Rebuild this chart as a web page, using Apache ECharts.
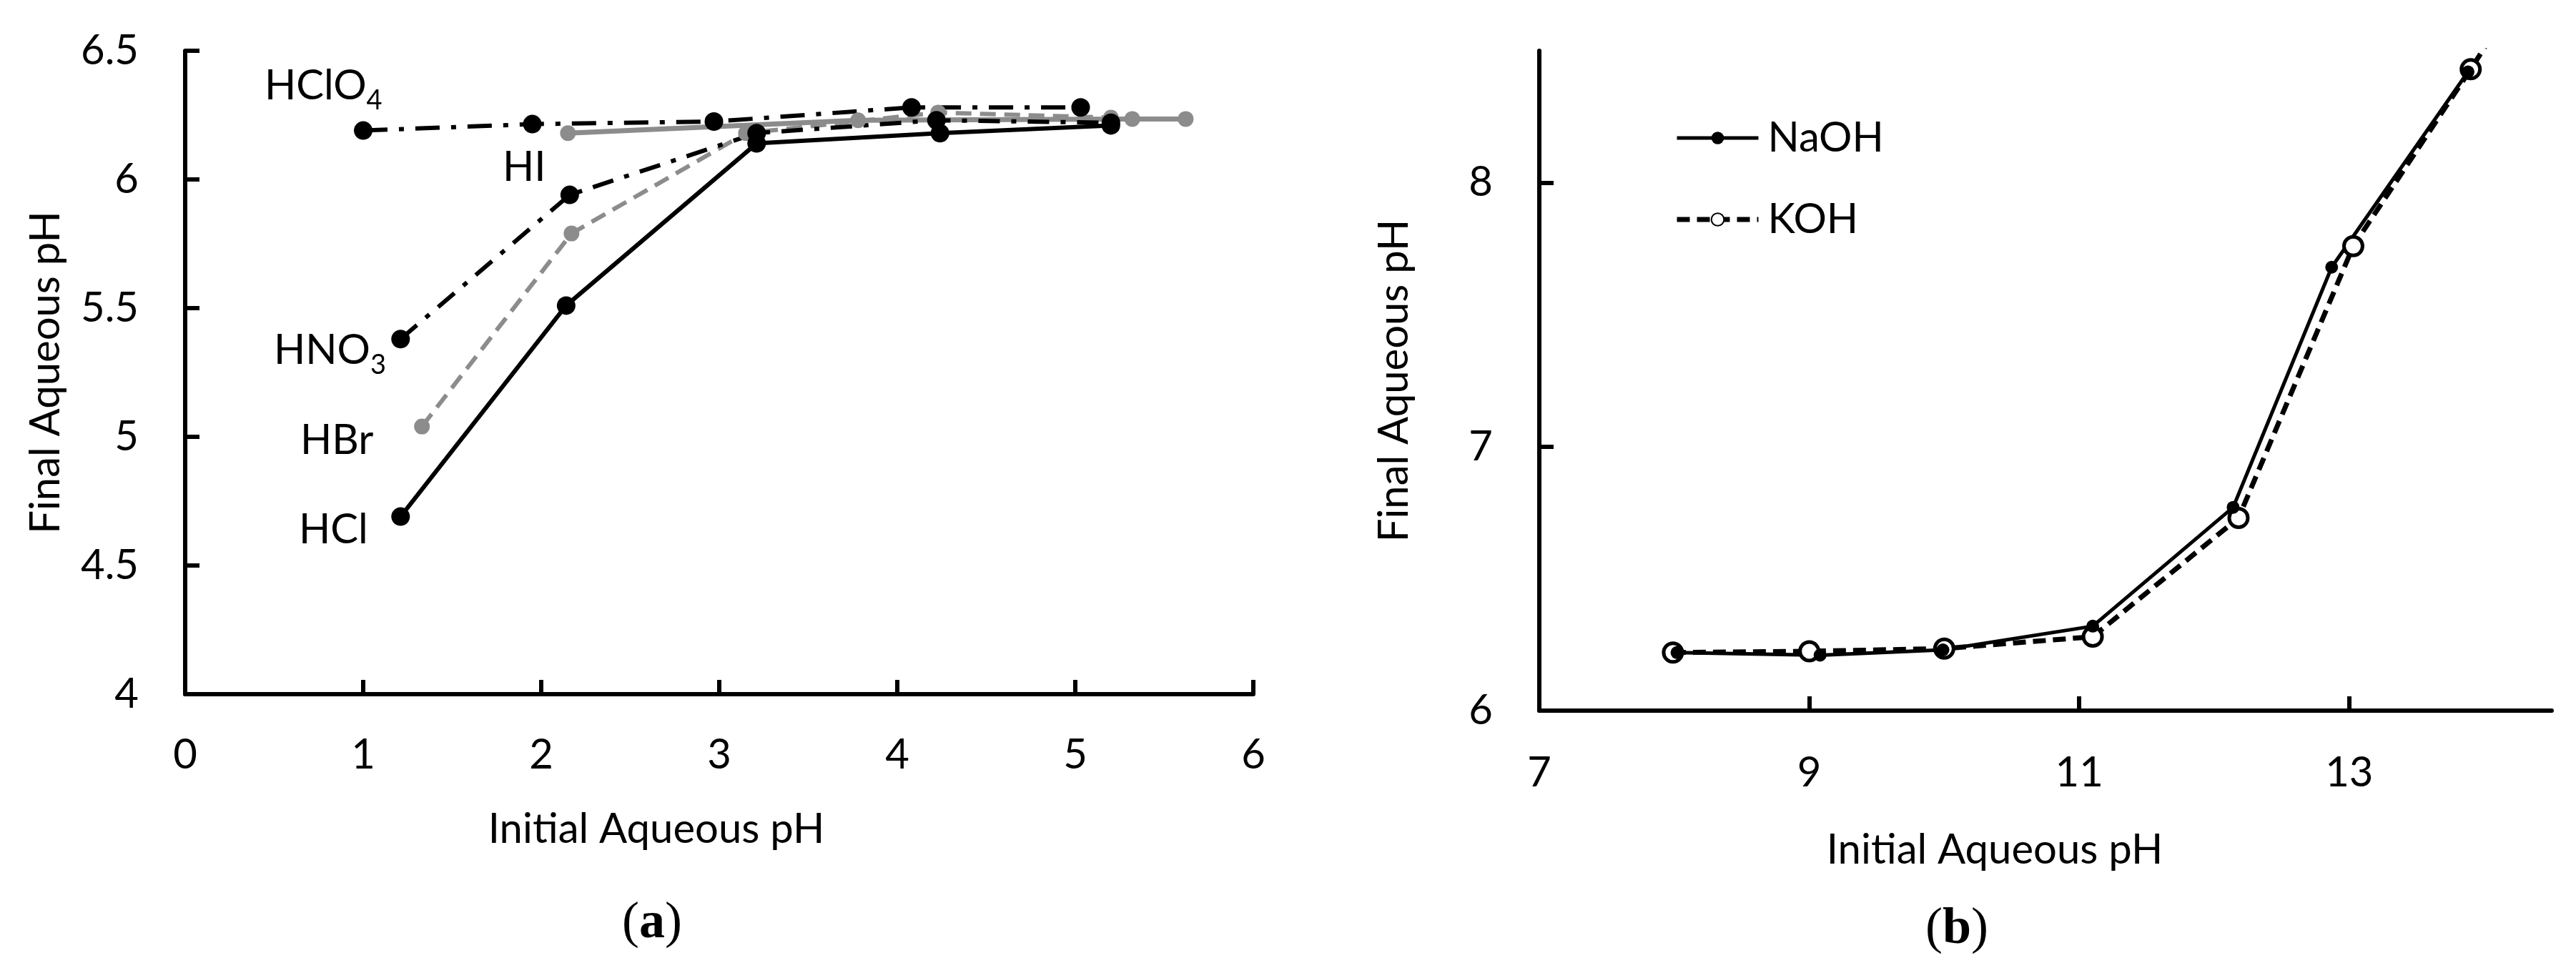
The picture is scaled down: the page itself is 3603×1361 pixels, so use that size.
<!DOCTYPE html>
<html>
<head>
<meta charset="utf-8">
<script src="https://cdn.jsdelivr.net/npm/echarts/dist/echarts.min.js"></script>
<style>
  html, body { margin: 0; padding: 0; background: #fff; }
  #main { width: 3603px; height: 1361px; }
</style>
</head>
<body>
<div id="main"></div>
<script>
// panel (a): acids
var hiX = [2.15, 3.78, 5.32, 5.62];
var hiY = [6.18, 6.23, 6.235, 6.235];
var hbrX = [1.33, 2.17, 3.15, 4.23, 5.2];
var hbrY = [5.04, 5.79, 6.18, 6.26, 6.24];
var hclo4X = [1.0, 1.95, 2.97, 4.08, 5.03];
var hclo4Y = [6.19, 6.215, 6.225, 6.28, 6.28];
var hno3X = [1.21, 2.16, 3.21, 4.22, 5.2];
var hno3Y = [5.38, 5.94, 6.18, 6.23, 6.22];
var hclX = [1.21, 2.14, 3.21, 4.24, 5.2];
var hclY = [4.69, 5.51, 6.14, 6.18, 6.21];

// panel (b): bases
var naohX = [8.02, 9.08, 9.99, 11.1, 12.14, 12.87, 13.88];
var naohY = [6.22, 6.21, 6.23, 6.32, 6.77, 7.68, 8.42];
var kohX = [7.99, 9.0, 10.0, 11.1, 12.18, 13.03, 13.9, 14.3];
var kohY = [6.22, 6.225, 6.235, 6.28, 6.73, 7.76, 8.43, 8.75];

// tick labels
var ticksAX = [0, 1, 2, 3, 4, 5, 6];
var ticksAY = [4, 4.5, 5, 5.5, 6, 6.5];
var ticksBX = [7, 9, 11, 13];
var ticksBY = [6, 7, 8];

var FONT = 'Lato, "Noto Sans", sans-serif';
var SERIF = '"Liberation Serif", serif';
var GRAY = '#8c8c8c';

function pts(xs, ys) {
    var out = [];
    for (var i = 0; i < xs.length; i++) out.push([xs[i], ys[i]]);
    return out;
}

function axisCommon(ticks) {
    return {
        type: 'value',
        axisLine: { show: true, lineStyle: { color: '#000', width: 6 } },
        axisTick: { show: true, inside: true, length: 20, customValues: ticks, lineStyle: { color: '#000', width: 6 } },
        axisLabel: { color: '#000', fontFamily: FONT, fontSize: 58, customValues: ticks },
        splitLine: { show: false },
        nameLocation: 'middle',
        nameTextStyle: { color: '#000', fontFamily: FONT, fontSize: 58 }
    };
}

function lineSeries(name, xi, yi, data, color, width, type, size, fill) {
    return {
        name: name,
        type: 'line',
        xAxisIndex: xi,
        yAxisIndex: yi,
        data: data,
        symbol: 'circle',
        symbolSize: size,
        clip: true,
        lineStyle: { color: color, width: width, type: type },
        itemStyle: { color: fill || color, borderColor: color, borderWidth: fill ? 5 : 0 },
        emphasis: { disabled: true }
    };
}

var xa = axisCommon(ticksAX);
xa.gridIndex = 0; xa.min = 0; xa.max = 6;
xa.axisLabel.margin = 56;
xa.name = 'Initial Aqueous pH'; xa.nameGap = 160;
xa.nameTextStyle.padding = [0, 176, 0, 0];

var ya = axisCommon(ticksAY);
ya.gridIndex = 0; ya.min = 4; ya.max = 6.5;
ya.axisLabel.margin = 65;
ya.name = 'Final Aqueous pH'; ya.nameGap = 166;

var xb = axisCommon(ticksBX);
xb.gridIndex = 1; xb.min = 7; xb.max = 14.5;
xb.axisLabel.margin = 58;
xb.name = 'Initial Aqueous pH'; xb.nameGap = 166;
xb.nameTextStyle.padding = [0, 142, 0, 0];

var yb = axisCommon(ticksBY);
yb.gridIndex = 1; yb.min = 6; yb.max = 8.5;
yb.axisLabel.margin = 65;
yb.name = 'Final Aqueous pH'; yb.nameGap = 174;

function label(x, y, main, sub) {
    var txt = '{m|' + main + '}' + (sub ? '{s|' + sub + '}' : '');
    return {
        type: 'text', x: x, y: y, silent: true,
        style: {
            text: txt, verticalAlign: 'middle',
            rich: {
                m: { fontFamily: FONT, fontSize: 58, fill: '#000', lineHeight: 80, verticalAlign: 'middle' },
                s: { fontFamily: FONT, fontSize: 38, fill: '#000', lineHeight: 40, verticalAlign: 'bottom' }
            }
        }
    };
}

function caption(x, y, letter) {
    return {
        type: 'text', x: x, y: y, silent: true,
        style: {
            text: '{p|(}{b|' + letter + '}{p|)}',
            align: 'center', verticalAlign: 'middle',
            rich: {
                p: { fontFamily: SERIF, fontSize: 72, fill: '#000' },
                b: { fontFamily: SERIF, fontSize: 72, fontWeight: 'bold', fill: '#000' }
            }
        }
    };
}

var option = {
    animation: false,
    backgroundColor: '#fff',
    grid: [
        { left: 259, top: 71, width: 1494, height: 900 },
        { left: 2153, top: 71, width: 1416, height: 923 }
    ],
    xAxis: [xa, xb],
    yAxis: [ya, yb],
    legend: {
        orient: 'vertical',
        left: 2337, top: 158,
        itemWidth: 114, itemHeight: 22, itemGap: 54,
        textStyle: { color: '#000', fontFamily: FONT, fontSize: 58, lineHeight: 60, padding: [0, 0, 0, 8] },
        data: [
            { name: 'NaOH', lineStyle: { width: 5 } },
            { name: 'KOH', lineStyle: { width: 7 } }
        ]
    },
    series: [
        lineSeries('HI', 0, 0, pts(hiX, hiY), GRAY, 7, 'solid', 22),
        lineSeries('HBr', 0, 0, pts(hbrX, hbrY), GRAY, 6, [22, 12], 22),
        lineSeries('HClO4', 0, 0, pts(hclo4X, hclo4Y), '#000', 6, [34, 16, 7, 16], 26),
        lineSeries('HNO3', 0, 0, pts(hno3X, hno3Y), '#000', 6, [30, 16, 7, 16], 26),
        lineSeries('HCl', 0, 0, pts(hclX, hclY), '#000', 6, 'solid', 26),
        lineSeries('KOH', 1, 1, pts(kohX, kohY), '#000', 7, [18, 10], 26, '#fff'),
        lineSeries('NaOH', 1, 1, pts(naohX, naohY), '#000', 5, 'solid', 18)
    ],
    graphic: [
        label(370, 120, 'HClO', '4'),
        label(703, 234, 'HI'),
        label(383, 490, 'HNO', '3'),
        label(420, 616, 'HBr'),
        label(418, 741, 'HCl'),
        caption(912, 1292, 'a'),
        caption(2737, 1300, 'b')
    ]
};

var myChart = echarts.init(document.getElementById('main'));
myChart.setOption(option);
</script>
</body>
</html>
